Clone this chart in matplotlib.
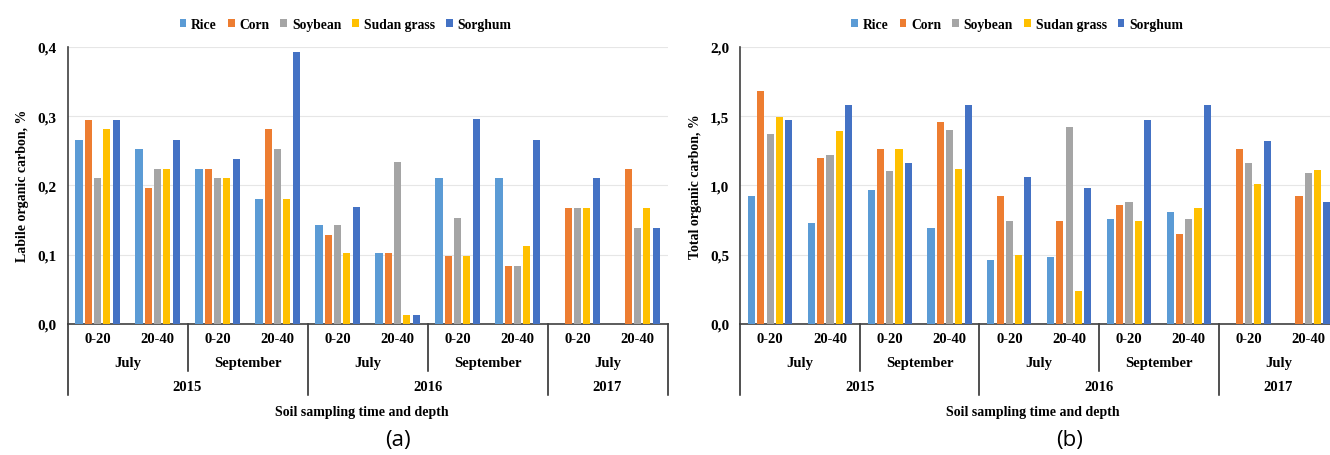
import matplotlib
matplotlib.use('Agg')
import matplotlib.pyplot as plt
import numpy as np

plt.rcParams['font.family'] = ['Liberation Serif', 'DejaVu Serif']
plt.rcParams['font.weight'] = 'bold'

# sampling points: depth / month / year
depths = ['0-20', '20-40'] * 5
months = ['July', 'September', 'July', 'September', 'July']
years = ['2015', '2016', '2017']
crops = ['Rice', 'Corn', 'Soybean', 'Sudan grass', 'Sorghum']
colors = ['#5B9BD5', '#ED7D31', '#A5A5A5', '#FFC000', '#4472C4']

# labile organic carbon, %
labile_rice = [0.266, 0.252, 0.224, 0.181, 0.143, 0.103, 0.210, 0.210, 0, 0]
labile_corn = [0.294, 0.196, 0.224, 0.281, 0.129, 0.103, 0.098, 0.083, 0.167, 0.224]
labile_soybean = [0.210, 0.224, 0.210, 0.252, 0.143, 0.234, 0.153, 0.083, 0.167, 0.139]
labile_sudan = [0.281, 0.224, 0.210, 0.181, 0.103, 0.0125, 0.098, 0.112, 0.167, 0.167]
labile_sorghum = [0.294, 0.266, 0.238, 0.393, 0.169, 0.0125, 0.295, 0.266, 0.210, 0.139]

# total organic carbon, %
total_rice = [0.92, 0.73, 0.97, 0.69, 0.46, 0.48, 0.76, 0.81, 0, 0]
total_corn = [1.68, 1.20, 1.26, 1.46, 0.92, 0.74, 0.86, 0.65, 1.26, 0.92]
total_soybean = [1.37, 1.22, 1.10, 1.40, 0.74, 1.42, 0.88, 0.76, 1.16, 1.09]
total_sudan = [1.49, 1.39, 1.26, 1.12, 0.50, 0.24, 0.74, 0.84, 1.01, 1.11]
total_sorghum = [1.47, 1.58, 1.16, 1.58, 1.06, 0.98, 1.47, 1.58, 1.32, 0.88]

labile = [labile_rice, labile_corn, labile_soybean, labile_sudan, labile_sorghum]
total = [total_rice, total_corn, total_soybean, total_sudan, total_sorghum]

FS = 10.5


def draw_panel(ax, series, ymax, yticks, ylabel, panel):
    x = np.arange(len(depths))
    step = 0.155
    for i, vals in enumerate(series):
        ax.bar(x + (i - 2) * step, vals, width=0.12, color=colors[i],
               label=crops[i], zorder=3)
    ax.set_xlim(-0.5, len(depths) - 0.5)
    ax.set_ylim(0, ymax)
    ax.set_yticks(yticks)
    ax.set_yticklabels([f'{t:.1f}'.replace('.', ',') for t in yticks],
                       fontsize=11, fontweight='bold')
    ax.tick_params(axis='y', length=0, pad=8)
    ax.tick_params(axis='x', length=0, labelbottom=False)
    ax.grid(axis='y', color='#E6E6E6', lw=0.8, zorder=0)
    for s in ['top', 'right']:
        ax.spines[s].set_visible(False)
    for s in ['left', 'bottom']:
        ax.spines[s].set_color('#404040')
        ax.spines[s].set_linewidth(1.2)
    ax.set_ylabel(ylabel, fontsize=10, fontweight='bold', labelpad=6)

    # multi-level category axis
    tr = ax.get_xaxis_transform()
    for i, d in enumerate(depths):
        ax.text(i, -0.054, d, transform=tr, ha='center', va='center',
                fontsize=FS, fontweight='bold')
    for j, m in enumerate(months):
        ax.text(2 * j + 0.5, -0.1406, m, transform=tr, ha='center',
                va='center', fontsize=FS, fontweight='bold')
    for xc, yr in zip([1.5, 5.5, 8.5], years):
        ax.text(xc, -0.227, yr, transform=tr, ha='center', va='center',
                fontsize=FS, fontweight='bold')
    for xb in [1.5, 5.5]:
        ax.plot([xb, xb], [0, -0.1695], transform=tr, color='#202020',
                lw=1.1, clip_on=False)
    for xb in [-0.5, 3.5, 7.5, 9.5]:
        ax.plot([xb, xb], [0, -0.256], transform=tr, color='#202020',
                lw=1.1, clip_on=False)
    ax.text(4.4, -0.317, 'Soil sampling time and depth', transform=tr,
            ha='center', va='center', fontsize=10, fontweight='bold')
    ax.text(5.0, -0.415, panel, transform=tr, ha='center', va='center',
            fontsize=16, fontweight='normal', family='Open Sans')
    ax.legend(loc='center', bbox_to_anchor=(0.463, 1.08), ncol=5,
              frameon=False, handlelength=0.5, handleheight=0.5,
              handletextpad=0.35, columnspacing=0.8,
              prop={'weight': 'bold', 'size': 9.8})


fig = plt.figure(figsize=(13.3, 4.56), dpi=100)
ax1 = fig.add_axes([0.0508, 0.2873, 0.4511, 0.6081])
ax2 = fig.add_axes([0.5566, 0.2873, 0.4496, 0.6081])

draw_panel(ax1, labile, 0.4, [0.0, 0.1, 0.2, 0.3, 0.4],
           'Labile organic carbon, %', '(a)')
draw_panel(ax2, total, 2.0, [0.0, 0.5, 1.0, 1.5, 2.0],
           'Total organic carbon, %', '(b)')

fig.savefig('out.png', dpi=100)
